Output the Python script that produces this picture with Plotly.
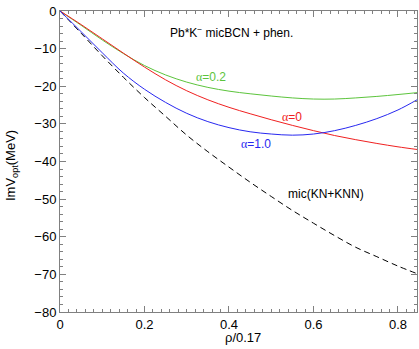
import plotly.graph_objects as go

rho = [0, 0.05, 0.1, 0.15, 0.2, 0.25, 0.3, 0.35, 0.4, 0.45, 0.5, 0.55, 0.6, 0.65, 0.7, 0.75, 0.8, 0.845]
v_alpha0 = [0, -3.6, -7.4, -11.2, -14.9, -18.3, -21.2, -23.6, -25.6, -27.3, -28.9, -30.4, -31.8, -33.1, -34.2, -35.2, -36.1, -36.8]
v_alpha02 = [0, -3.8, -7.7, -11.3, -14.5, -17.0, -18.9, -20.3, -21.3, -22.0, -22.6, -23.1, -23.4, -23.4, -23.1, -22.7, -22.2, -21.7]
v_alpha1 = [0, -5.5, -11.1, -16.5, -20.8, -24.3, -27.2, -29.4, -31.0, -32.1, -32.7, -33.0, -32.7, -31.8, -30.4, -28.6, -26.3, -23.6]
v_mic = [0, -5.9, -11.9, -17.6, -23.0, -28.0, -33.0, -37.4, -41.5, -45.5, -49.3, -53.0, -56.4, -59.7, -62.8, -65.3, -67.8, -69.8]

x_ticks = [0, 0.2, 0.4, 0.6, 0.8]
x_ticklabels = ["0", "0.2", "0.4", "0.6", "0.8"]
y_ticks = [0, -10, -20, -30, -40, -50, -60, -70, -80]
y_ticklabels = ["0", "−10", "−20", "−30", "−40", "−50", "−60", "−70", "−80"]

GREEN = "#5cc43c"
RED = "#f02020"
BLUE = "#2828f0"

fig = go.Figure()
fig.add_trace(go.Scatter(x=rho, y=v_mic, mode="lines", line=dict(color="black", width=1, dash="6px,4px"), line_shape="spline"))
fig.add_trace(go.Scatter(x=rho, y=v_alpha02, mode="lines", line=dict(color=GREEN, width=1), line_shape="spline"))
fig.add_trace(go.Scatter(x=rho, y=v_alpha0, mode="lines", line=dict(color=RED, width=1), line_shape="spline"))
fig.add_trace(go.Scatter(x=rho, y=v_alpha1, mode="lines", line=dict(color=BLUE, width=1), line_shape="spline"))

font = "Liberation Sans, Arial, sans-serif"
A = '<span style="font-family:Liberation Serif">α</span>'

annos = [
    dict(x=0.406, y=-5.6, text="Pb*K<sup>−</sup> micBCN + phen.", color="black"),
    dict(x=0.358, y=-17.5, text=A + "=0.2", color=GREEN),
    dict(x=0.548, y=-28.1, text=A + "=0", color=RED),
    dict(x=0.464, y=-35.3, text=A + "=1.0", color=BLUE),
    dict(x=0.63, y=-48.7, text="mic(KN+KNN)", color="black"),
]
for a in annos:
    fig.add_annotation(x=a["x"], y=a["y"], xref="x", yref="y", text=a["text"], showarrow=False,
                       font=dict(family=font, size=12, color=a["color"]), xanchor="center", yanchor="middle")

# axis titles (paper coords are relative to the plot area: l=60..417, t=11..312)
fig.add_annotation(x=(243 - 60) / 357, y=(312 - 338) / 301, xref="paper", yref="paper", text="ρ/0.17", showarrow=False,
                   font=dict(family=font, size=13, color="black"), xanchor="center", yanchor="middle")
fig.add_annotation(x=(11 - 60) / 357, y=(312 - 165) / 301, xref="paper", yref="paper", text="ImV<sub>opt</sub>(MeV)", showarrow=False,
                   textangle=-90, font=dict(family=font, size=13, color="black"), xanchor="center", yanchor="middle")

axis_common = dict(
    showgrid=False, zeroline=False, showline=True, linecolor="#808080", linewidth=1,
    mirror="allticks", ticks="inside", ticklen=6, tickcolor="#808080", tickwidth=1,
    tickfont=dict(family=font, size=13, color="black"), automargin=False,
)

fig.update_xaxes(range=[0, 0.845], tickvals=x_ticks, ticktext=x_ticklabels,
                 minor=dict(dtick=0.02, ticks="inside", ticklen=3, tickcolor="#808080", showgrid=False),
                 **axis_common)
fig.update_yaxes(range=[-80, 0], tickvals=y_ticks, ticktext=y_ticklabels,
                 minor=dict(dtick=2, ticks="inside", ticklen=3, tickcolor="#808080", showgrid=False),
                 **axis_common)

fig.update_layout(width=419, height=349, margin=dict(l=60, r=2, t=11, b=37),
                  plot_bgcolor="white", paper_bgcolor="white", showlegend=False)

fig.write_html("out.html", config={"displayModeBar": False},
               post_script="document.body.style.margin='0';document.body.style.overflow='hidden';")
